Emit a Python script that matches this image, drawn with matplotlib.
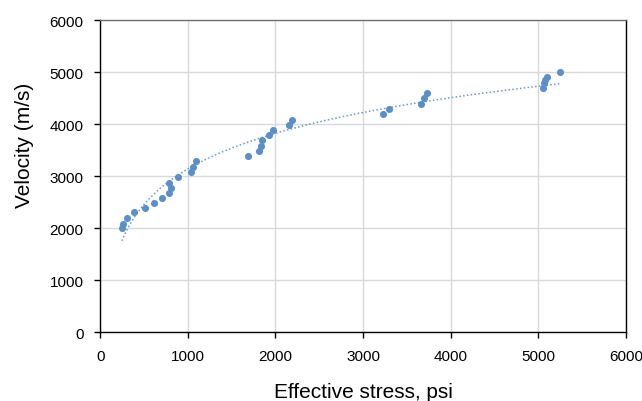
import matplotlib.pyplot as plt
import numpy as np

plt.rcParams['font.family'] = ['Liberation Sans', 'DejaVu Sans']

# measured points: effective stress (psi) vs velocity (m/s)
stress = [247, 259, 305, 391, 510, 612, 711, 787, 806, 790, 893,
          1041, 1057, 1098, 1692, 1817, 1833, 1848, 1928, 1970, 2156, 2193,
          3224, 3296, 3665, 3692, 3730, 5049, 5061, 5079, 5098, 5247]
velocity = [2000, 2077, 2192, 2302, 2379, 2475, 2577, 2673, 2775, 2871, 2975,
            3077, 3167, 3283, 3390, 3475, 3583, 3698, 3782, 3890, 3975, 4083,
            4192, 4288, 4390, 4494, 4596, 4698, 4783, 4846, 4904, 5006]

x_ticks = [0, 1000, 2000, 3000, 4000, 5000, 6000]
y_ticks = [0, 1000, 2000, 3000, 4000, 5000, 6000]

blue = '#5b8fc8'

fig = plt.figure(figsize=(6.42, 4.02), dpi=100)
ax = fig.add_axes([0.156, 0.1716, 0.819, 0.776])

ax.scatter(stress, velocity, s=26, color=blue, zorder=3, linewidths=0)

# logarithmic trendline
a, b = np.polyfit(np.log(stress), velocity, 1)
xs = np.linspace(min(stress), max(stress), 300)
ax.plot(xs, a * np.log(xs) + b, linestyle=(0, (1, 1.5)), color=blue,
        linewidth=1.1, alpha=0.9, zorder=2)

ax.set_xlim(0, 6000)
ax.set_ylim(0, 6000)
ax.set_xticks(x_ticks)
ax.set_yticks(y_ticks)
ax.grid(True, color='#d9d9d9', linewidth=1)
ax.set_axisbelow(True)
for s in ax.spines.values():
    s.set_color('#000000')
    s.set_linewidth(1)
ax.spines['top'].set_color('#6e6e6e')
ax.tick_params(direction='out', length=4, width=1, labelsize=11, pad=8, colors='#000000')

ax.set_xlabel('Effective stress, psi', fontsize=15)
ax.set_ylabel('Velocity (m/s)', fontsize=15)
ax.xaxis.set_label_coords(0.5, -0.16)
ax.yaxis.set_label_coords(-0.125, 0.6)

fig.savefig('out.png', dpi=100)
